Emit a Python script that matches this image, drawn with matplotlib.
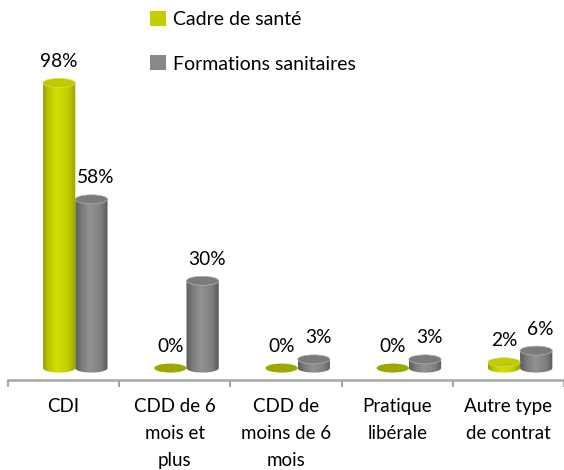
import numpy as np
import matplotlib.pyplot as plt
from matplotlib.patches import Ellipse, Patch, PathPatch
from matplotlib.path import Path
from matplotlib.colors import LinearSegmentedColormap

plt.rcParams['font.family'] = ['Lato', 'DejaVu Sans']

# Data
categories = ['CDI', 'CDD de 6\nmois et\nplus', 'CDD de\nmoins de 6\nmois',
              'Pratique\nlibérale', 'Autre type\nde contrat']
series_names = ['Cadre de santé', 'Formations sanitaires']
cadre = [98, 0, 0, 0, 2]
formations = [58, 30, 3, 3, 6]

# Styles
yellow_cmap = LinearSegmentedColormap.from_list(
    'y', [(0, '#98a200'), (0.15, '#b8c400'), (0.4, '#d3df00'), (0.75, '#c4cf00'), (1, '#99a300')])
gray_cmap = LinearSegmentedColormap.from_list(
    'g', [(0, '#5c5c5c'), (0.2, '#7b7b7b'), (0.45, '#929292'), (0.8, '#7e7e7e'), (1, '#595959')])
yellow_top = '#bfca00'
gray_top = '#7b7b7b'
yellow_flat = '#9ca700'
axis_gray = '#a6a6a6'

bar_w = 0.29
ry = 1.55  # half-height of ellipses, in % units


def cylinder(ax, xc, h, cmap, top_color, flat_color, rim, z):
    if h <= 0:
        ax.add_patch(Ellipse((xc, 0), bar_w, 2 * ry, facecolor=flat_color,
                             edgecolor='none', zorder=z, clip_on=False))
        return
    x0, x1 = xc - bar_w / 2, xc + bar_w / 2
    t = np.linspace(np.pi, 2 * np.pi, 50)
    bottom = np.column_stack([xc + bar_w / 2 * np.cos(t), ry * np.sin(t)])
    verts = np.vstack([[x0, h], bottom, [x1, h], [x0, h]])
    codes = [Path.MOVETO] + [Path.LINETO] * (len(verts) - 2) + [Path.CLOSEPOLY]
    body = PathPatch(Path(verts, codes), facecolor='none', edgecolor='none',
                     zorder=z, clip_on=False)
    ax.add_patch(body)
    grad = np.linspace(0, 1, 200).reshape(1, -1)
    im = ax.imshow(grad, cmap=cmap, extent=[x0, x1, -ry, h], aspect='auto',
                   origin='lower', zorder=z, interpolation='bilinear')
    im.set_clip_path(body)
    ax.add_patch(Ellipse((xc, h), bar_w, 2 * ry, facecolor=top_color,
                         edgecolor=rim, lw=0.5, zorder=z + 0.1, clip_on=False))


fig = plt.figure(figsize=(5.64, 4.70), dpi=100)
ax = fig.add_axes([8 / 564, 90 / 470, 1 - 8 / 564, 380 / 470])

x = np.arange(len(categories))
off_y, off_g = -0.04, 0.25
for i in x:
    cylinder(ax, i + off_g, formations[i], gray_cmap, gray_top, gray_top, '#b5b5b5', 2)
    cylinder(ax, i + off_y, cadre[i], yellow_cmap, yellow_top, yellow_flat, '#d6df60', 3)
    ax.text(i + off_y, cadre[i] + 7.4, f'{cadre[i]}%', ha='center', va='center',
            fontsize=13.8, color='black')
    ax.text(i + off_g + 0.04, formations[i] + 7.4, f'{formations[i]}%', ha='center',
            va='center', fontsize=13.8, color='black')

ax.set_xlim(-0.5, 4.5)
ax.set_ylim(-4.1, 126.5)
ax.set_facecolor('none')
for s in ['top', 'right', 'left']:
    ax.spines[s].set_visible(False)
ax.spines['bottom'].set_color(axis_gray)
ax.spines['bottom'].set_linewidth(1.8)
ax.set_yticks([])
ax.set_xticks(np.arange(-0.5, 5, 1))
ax.set_xticklabels([])
ax.tick_params(axis='x', which='major', length=5, width=1.5, color=axis_gray)
ax.set_xticks(x, categories, minor=True)
ax.tick_params(axis='x', which='minor', length=0, pad=13, labelsize=13.5)
for lab in ax.get_xticklabels(minor=True):
    lab.set_linespacing(1.7)

handles = [Patch(facecolor='#c3cf00', edgecolor='none'),
           Patch(facecolor='#888888', edgecolor='none')]
fig.legend(handles, series_names, loc='upper left', bbox_to_anchor=(150 / 564, 1 - 11 / 470),
           frameon=False, fontsize=14, handlelength=0.8, handleheight=0.8,
           handletextpad=0.4, labelspacing=1.4, borderpad=0, borderaxespad=0)

fig.savefig('out.png', dpi=100)
